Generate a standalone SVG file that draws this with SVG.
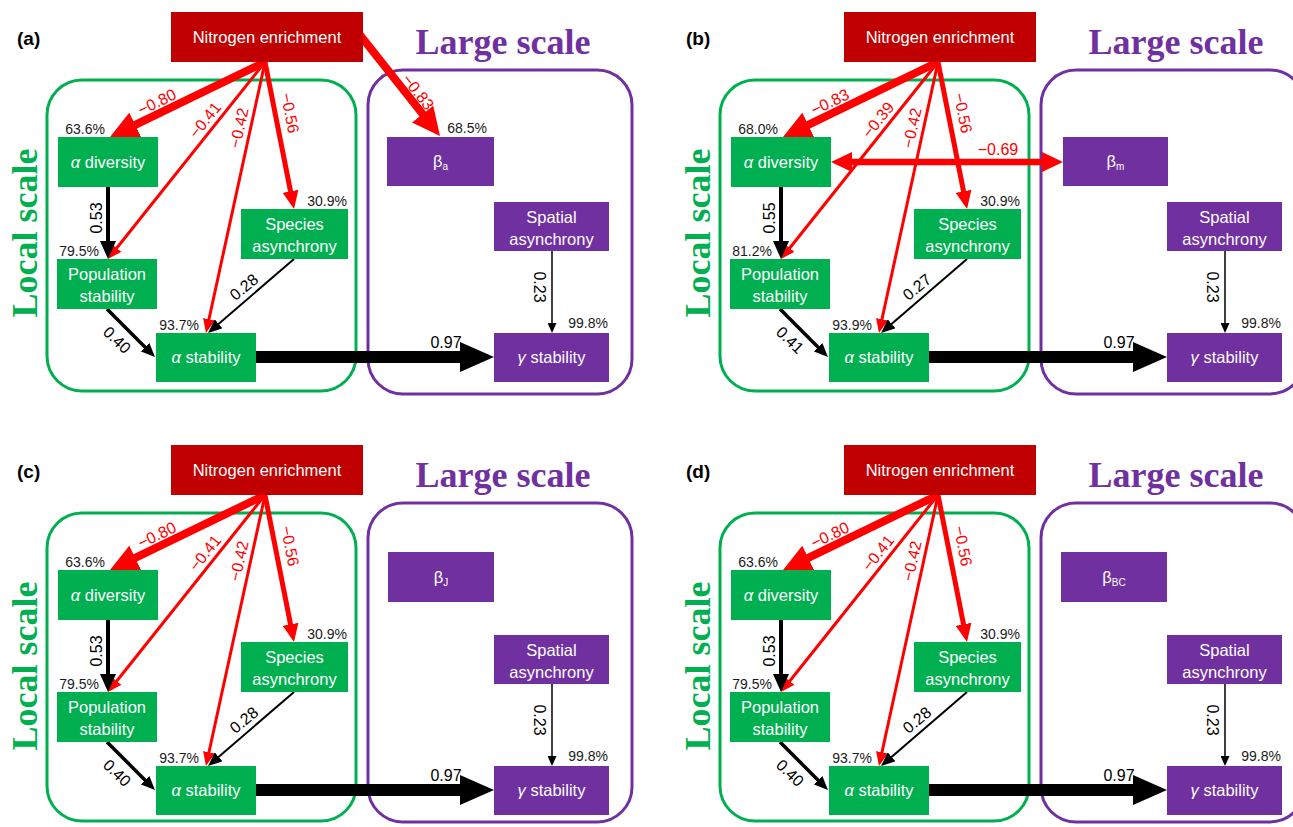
<svg xmlns="http://www.w3.org/2000/svg" width="1293" height="827" viewBox="0 0 1293 827">
<style>
.ttl{font-family:"Liberation Serif","Times New Roman",serif;font-weight:bold;font-size:36px;text-anchor:middle}
.lg{fill:#7030A0}.lc{fill:#00B050}
.plab{font-family:"Liberation Sans",Arial,sans-serif;font-weight:bold;font-size:19px;fill:#000}
.nt{font-family:"Liberation Sans",Arial,sans-serif;font-size:16.5px;fill:#fff;text-anchor:middle}
.sub{font-size:10px}
.pct{font-family:"Liberation Sans",Arial,sans-serif;font-size:14px;fill:#1a1a1a;text-anchor:end}
.cf{font-family:"Liberation Sans",Arial,sans-serif;font-size:16px;text-anchor:middle}
.r{fill:#FF0000}.k{fill:#000}
.lr{stroke:#FF0000;fill:none}.lk{stroke:#000;fill:none}
.gn{fill:#00B050}.pu{fill:#7030A0}.nr{fill:#C00000}
.gbox{fill:none;stroke:#00B050;stroke-width:3}
.pbox{fill:none;stroke:#7030A0;stroke-width:3}
</style>
<defs>
<marker id="hs-r" markerUnits="userSpaceOnUse" markerWidth="14" markerHeight="12" viewBox="0 0 14 12" refX="4" refY="6" orient="auto"><path d="M0,0 L14,6 L0,12 z" fill="#FF0000"/></marker>
<marker id="hs-k" markerUnits="userSpaceOnUse" markerWidth="14" markerHeight="12" viewBox="0 0 14 12" refX="4" refY="6" orient="auto"><path d="M0,0 L14,6 L0,12 z" fill="#000"/></marker>
<marker id="hxs-k" markerUnits="userSpaceOnUse" markerWidth="10" markerHeight="9" viewBox="0 0 10 9" refX="3" refY="4.5" orient="auto"><path d="M0,0 L10,4.5 L0,9 z" fill="#000"/></marker>
<marker id="hm-r" markerUnits="userSpaceOnUse" markerWidth="18" markerHeight="16" viewBox="0 0 18 16" refX="6" refY="8" orient="auto"><path d="M0,0 L18,8 L0,16 z" fill="#FF0000"/></marker>
<marker id="hm-k" markerUnits="userSpaceOnUse" markerWidth="18" markerHeight="16" viewBox="0 0 18 16" refX="6" refY="8" orient="auto"><path d="M0,0 L18,8 L0,16 z" fill="#000"/></marker>
<marker id="hl-r" markerUnits="userSpaceOnUse" markerWidth="28" markerHeight="27" viewBox="0 0 28 27" refX="8" refY="13.5" orient="auto"><path d="M0,0 L28,13.5 L0,27 z" fill="#FF0000"/></marker>
<marker id="hx-k" markerUnits="userSpaceOnUse" markerWidth="34" markerHeight="30" viewBox="0 0 34 30" refX="10" refY="15" orient="auto"><path d="M0,0 L34,15 L0,30 z" fill="#000"/></marker>
<marker id="hd-r" markerUnits="userSpaceOnUse" markerWidth="21" markerHeight="20" viewBox="0 0 21 20" refX="6" refY="10" orient="auto-start-reverse"><path d="M0,0 L21,10 L0,20 z" fill="#FF0000"/></marker>
</defs>

<!-- ============ PANEL A ============ -->
<g id="panel-a">
<text class="plab" x="17" y="45">(a)</text>
<text class="ttl lg" x="503" y="54">Large scale</text>
<text class="ttl lc" transform="translate(37,233) rotate(-90)">Local scale</text>
<rect id="a-local-frame" class="gbox" x="47" y="80" width="309" height="311" rx="35"/>
<rect id="a-large-frame" class="pbox" x="368" y="70" width="264" height="324" rx="35"/>
<g id="a-connectors">
<path class="lr" stroke-width="8" d="M265,62 L128,128.3" marker-end="url(#hl-r)"/>
<path class="lr" stroke-width="3" d="M265,62 L114.2,251.2" marker-end="url(#hs-r)"/>
<path class="lr" stroke-width="3" d="M265,62 L208.1,323.2" marker-end="url(#hs-r)"/>
<path class="lr" stroke-width="5" d="M265,62 L291.7,197.2" marker-end="url(#hm-r)"/>
<path class="lr" stroke-width="8" d="M360,35 L427.6,120.3" marker-end="url(#hl-r)"/>
<path class="lk" stroke-width="4" d="M108,187 L108,247" marker-end="url(#hm-k)"/>
<path class="lk" stroke-width="2" d="M294,259 L215.6,326.5" marker-end="url(#hs-k)"/>
<path class="lk" stroke-width="3.5" d="M107,309 L147.9,349.9" marker-end="url(#hs-k)"/>
<path class="lk" stroke-width="12" d="M256,357 L470,357" marker-end="url(#hx-k)"/>
<path class="lk" stroke-width="1.5" d="M552,251 L552,326" marker-end="url(#hxs-k)"/>
<text class="cf r" transform="translate(157,102) rotate(-25.8)" y="5.5">−0.80</text>
<text class="cf r" transform="translate(205,120) rotate(-51.4)" y="5.5">−0.41</text>
<text class="cf r" transform="translate(239,128) rotate(-77.7)" y="5.5">−0.42</text>
<text class="cf r" transform="translate(290,113) rotate(78.8)" y="5.5">−0.56</text>
<text class="cf r" transform="translate(418,92) rotate(52)" y="5.5">−0.83</text>
<text class="cf k" transform="translate(96,218) rotate(-90)" y="5.5">0.53</text>
<text class="cf k" transform="translate(244,287) rotate(-40)" y="5.5">0.28</text>
<text class="cf k" transform="translate(117,340) rotate(44)" y="5.5">0.40</text>
<text class="cf k" x="446" y="348">0.97</text>
<text class="cf k" transform="translate(539,287) rotate(90)" y="5.5">0.23</text>
</g>
<g id="a-nitrogen"><rect class="nr" x="171" y="12" width="192" height="50"/><text class="nt" x="267" y="43">Nitrogen enrichment</text></g>
<g id="a-alpha-diversity"><rect class="gn" x="58" y="137" width="100" height="50"/><text class="nt" x="108" y="168"><tspan font-style="italic">α</tspan> diversity</text><text class="pct" x="105" y="134">63.6%</text></g>
<g id="a-population-stability"><rect class="gn" x="57" y="259" width="100" height="50"/><text class="nt" x="107" y="280">Population</text><text class="nt" x="107" y="302">stability</text><text class="pct" x="99" y="256">79.5%</text></g>
<g id="a-species-asynchrony"><rect class="gn" x="241" y="209" width="107" height="50"/><text class="nt" x="294.5" y="230">Species</text><text class="nt" x="294.5" y="252">asynchrony</text><text class="pct" x="347" y="206">30.9%</text></g>
<g id="a-alpha-stability"><rect class="gn" x="156" y="333" width="100" height="49"/><text class="nt" x="206" y="363"><tspan font-style="italic">α</tspan> stability</text><text class="pct" x="199" y="330">93.7%</text></g>
<g id="a-beta"><rect class="pu" x="387" y="137" width="107" height="49"/><text class="nt" x="440.5" y="167">β<tspan class="sub" dy="3">a</tspan></text><text class="pct" x="487" y="133">68.5%</text></g>
<g id="a-spatial-asynchrony"><rect class="pu" x="494" y="202" width="115" height="49"/><text class="nt" x="551.5" y="223">Spatial</text><text class="nt" x="551.5" y="245">asynchrony</text></g>
<g id="a-gamma-stability"><rect class="pu" x="494" y="333" width="115" height="49"/><text class="nt" x="551.5" y="363"><tspan font-style="italic">γ</tspan> stability</text><text class="pct" x="608" y="328">99.8%</text></g>
</g>

<!-- ============ PANEL B ============ -->
<g id="panel-b" transform="translate(673,0)">
<text class="plab" x="13" y="45">(b)</text>
<text class="ttl lg" x="503" y="54">Large scale</text>
<text class="ttl lc" transform="translate(37,233) rotate(-90)">Local scale</text>
<rect id="b-local-frame" class="gbox" x="47" y="80" width="309" height="311" rx="35"/>
<rect id="b-large-frame" class="pbox" x="368" y="70" width="264" height="324" rx="35"/>
<g id="b-connectors">
<path class="lr" stroke-width="8" d="M265,62 L128,128.3" marker-end="url(#hl-r)"/>
<path class="lr" stroke-width="3" d="M265,62 L114.2,251.2" marker-end="url(#hs-r)"/>
<path class="lr" stroke-width="3" d="M265,62 L208.1,323.2" marker-end="url(#hs-r)"/>
<path class="lr" stroke-width="5" d="M265,62 L291.7,197.2" marker-end="url(#hm-r)"/>
<path class="lr" stroke-width="6.5" d="M173,162 L375,162" marker-start="url(#hd-r)" marker-end="url(#hd-r)"/>
<path class="lk" stroke-width="4" d="M108,187 L108,247" marker-end="url(#hm-k)"/>
<path class="lk" stroke-width="2" d="M294,259 L215.6,326.5" marker-end="url(#hs-k)"/>
<path class="lk" stroke-width="3.5" d="M107,309 L147.9,349.9" marker-end="url(#hs-k)"/>
<path class="lk" stroke-width="12" d="M256,357 L470,357" marker-end="url(#hx-k)"/>
<path class="lk" stroke-width="1.5" d="M552,251 L552,326" marker-end="url(#hxs-k)"/>
<text class="cf r" transform="translate(157,102) rotate(-25.8)" y="5.5">−0.83</text>
<text class="cf r" transform="translate(205,120) rotate(-51.4)" y="5.5">−0.39</text>
<text class="cf r" transform="translate(239,128) rotate(-77.7)" y="5.5">−0.42</text>
<text class="cf r" transform="translate(290,113) rotate(78.8)" y="5.5">−0.56</text>
<text class="cf r" x="325" y="155">−0.69</text>
<text class="cf k" transform="translate(96,218) rotate(-90)" y="5.5">0.55</text>
<text class="cf k" transform="translate(244,287) rotate(-40)" y="5.5">0.27</text>
<text class="cf k" transform="translate(117,340) rotate(44)" y="5.5">0.41</text>
<text class="cf k" x="446" y="348">0.97</text>
<text class="cf k" transform="translate(539,287) rotate(90)" y="5.5">0.23</text>
</g>
<g id="b-nitrogen"><rect class="nr" x="171" y="12" width="192" height="50"/><text class="nt" x="267" y="43">Nitrogen enrichment</text></g>
<g id="b-alpha-diversity"><rect class="gn" x="58" y="137" width="100" height="50"/><text class="nt" x="108" y="168"><tspan font-style="italic">α</tspan> diversity</text><text class="pct" x="105" y="134">68.0%</text></g>
<g id="b-population-stability"><rect class="gn" x="57" y="259" width="100" height="50"/><text class="nt" x="107" y="280">Population</text><text class="nt" x="107" y="302">stability</text><text class="pct" x="99" y="256">81.2%</text></g>
<g id="b-species-asynchrony"><rect class="gn" x="241" y="209" width="107" height="50"/><text class="nt" x="294.5" y="230">Species</text><text class="nt" x="294.5" y="252">asynchrony</text><text class="pct" x="347" y="206">30.9%</text></g>
<g id="b-alpha-stability"><rect class="gn" x="156" y="333" width="100" height="49"/><text class="nt" x="206" y="363"><tspan font-style="italic">α</tspan> stability</text><text class="pct" x="199" y="330">93.9%</text></g>
<g id="b-beta"><rect class="pu" x="390" y="137" width="105" height="49"/><text class="nt" x="442.5" y="167">β<tspan class="sub" dy="3">m</tspan></text></g>
<g id="b-spatial-asynchrony"><rect class="pu" x="494" y="202" width="115" height="49"/><text class="nt" x="551.5" y="223">Spatial</text><text class="nt" x="551.5" y="245">asynchrony</text></g>
<g id="b-gamma-stability"><rect class="pu" x="494" y="333" width="115" height="49"/><text class="nt" x="551.5" y="363"><tspan font-style="italic">γ</tspan> stability</text><text class="pct" x="608" y="328">99.8%</text></g>
</g>

<!-- ============ PANEL C ============ -->
<g id="panel-c" transform="translate(0,433)">
<text class="plab" x="17" y="45">(c)</text>
<text class="ttl lg" x="503" y="54">Large scale</text>
<text class="ttl lc" transform="translate(37,233) rotate(-90)">Local scale</text>
<rect id="c-local-frame" class="gbox" x="47" y="80" width="309" height="308" rx="35"/>
<rect id="c-large-frame" class="pbox" x="368" y="70" width="264" height="319" rx="35"/>
<g id="c-connectors">
<path class="lr" stroke-width="8" d="M265,62 L128,128.3" marker-end="url(#hl-r)"/>
<path class="lr" stroke-width="3" d="M265,62 L114.2,251.2" marker-end="url(#hs-r)"/>
<path class="lr" stroke-width="3" d="M265,62 L208.1,323.2" marker-end="url(#hs-r)"/>
<path class="lr" stroke-width="5" d="M265,62 L291.7,197.2" marker-end="url(#hm-r)"/>
<path class="lk" stroke-width="4" d="M108,187 L108,247" marker-end="url(#hm-k)"/>
<path class="lk" stroke-width="2" d="M294,259 L215.6,326.5" marker-end="url(#hs-k)"/>
<path class="lk" stroke-width="3.5" d="M107,309 L147.9,349.9" marker-end="url(#hs-k)"/>
<path class="lk" stroke-width="12" d="M256,357 L470,357" marker-end="url(#hx-k)"/>
<path class="lk" stroke-width="1.5" d="M552,251 L552,326" marker-end="url(#hxs-k)"/>
<text class="cf r" transform="translate(157,102) rotate(-25.8)" y="5.5">−0.80</text>
<text class="cf r" transform="translate(205,120) rotate(-51.4)" y="5.5">−0.41</text>
<text class="cf r" transform="translate(239,128) rotate(-77.7)" y="5.5">−0.42</text>
<text class="cf r" transform="translate(290,113) rotate(78.8)" y="5.5">−0.56</text>
<text class="cf k" transform="translate(96,218) rotate(-90)" y="5.5">0.53</text>
<text class="cf k" transform="translate(244,287) rotate(-40)" y="5.5">0.28</text>
<text class="cf k" transform="translate(117,340) rotate(44)" y="5.5">0.40</text>
<text class="cf k" x="446" y="348">0.97</text>
<text class="cf k" transform="translate(539,287) rotate(90)" y="5.5">0.23</text>
</g>
<g id="c-nitrogen"><rect class="nr" x="171" y="12" width="192" height="50"/><text class="nt" x="267" y="43">Nitrogen enrichment</text></g>
<g id="c-alpha-diversity"><rect class="gn" x="58" y="137" width="100" height="50"/><text class="nt" x="108" y="168"><tspan font-style="italic">α</tspan> diversity</text><text class="pct" x="105" y="134">63.6%</text></g>
<g id="c-population-stability"><rect class="gn" x="57" y="259" width="100" height="50"/><text class="nt" x="107" y="280">Population</text><text class="nt" x="107" y="302">stability</text><text class="pct" x="99" y="256">79.5%</text></g>
<g id="c-species-asynchrony"><rect class="gn" x="241" y="209" width="107" height="50"/><text class="nt" x="294.5" y="230">Species</text><text class="nt" x="294.5" y="252">asynchrony</text><text class="pct" x="347" y="206">30.9%</text></g>
<g id="c-alpha-stability"><rect class="gn" x="156" y="333" width="100" height="49"/><text class="nt" x="206" y="363"><tspan font-style="italic">α</tspan> stability</text><text class="pct" x="199" y="330">93.7%</text></g>
<g id="c-beta"><rect class="pu" x="388" y="119" width="106" height="50"/><text class="nt" x="441" y="150">β<tspan class="sub" dy="3">J</tspan></text></g>
<g id="c-spatial-asynchrony"><rect class="pu" x="494" y="202" width="115" height="49"/><text class="nt" x="551.5" y="223">Spatial</text><text class="nt" x="551.5" y="245">asynchrony</text></g>
<g id="c-gamma-stability"><rect class="pu" x="494" y="333" width="115" height="49"/><text class="nt" x="551.5" y="363"><tspan font-style="italic">γ</tspan> stability</text><text class="pct" x="608" y="328">99.8%</text></g>
</g>

<!-- ============ PANEL D ============ -->
<g id="panel-d" transform="translate(673,433)">
<text class="plab" x="13" y="45">(d)</text>
<text class="ttl lg" x="503" y="54">Large scale</text>
<text class="ttl lc" transform="translate(37,233) rotate(-90)">Local scale</text>
<rect id="d-local-frame" class="gbox" x="47" y="80" width="309" height="308" rx="35"/>
<rect id="d-large-frame" class="pbox" x="368" y="70" width="264" height="319" rx="35"/>
<g id="d-connectors">
<path class="lr" stroke-width="8" d="M265,62 L128,128.3" marker-end="url(#hl-r)"/>
<path class="lr" stroke-width="3" d="M265,62 L114.2,251.2" marker-end="url(#hs-r)"/>
<path class="lr" stroke-width="3" d="M265,62 L208.1,323.2" marker-end="url(#hs-r)"/>
<path class="lr" stroke-width="5" d="M265,62 L291.7,197.2" marker-end="url(#hm-r)"/>
<path class="lk" stroke-width="4" d="M108,187 L108,247" marker-end="url(#hm-k)"/>
<path class="lk" stroke-width="2" d="M294,259 L215.6,326.5" marker-end="url(#hs-k)"/>
<path class="lk" stroke-width="3.5" d="M107,309 L147.9,349.9" marker-end="url(#hs-k)"/>
<path class="lk" stroke-width="12" d="M256,357 L470,357" marker-end="url(#hx-k)"/>
<path class="lk" stroke-width="1.5" d="M552,251 L552,326" marker-end="url(#hxs-k)"/>
<text class="cf r" transform="translate(157,102) rotate(-25.8)" y="5.5">−0.80</text>
<text class="cf r" transform="translate(205,120) rotate(-51.4)" y="5.5">−0.41</text>
<text class="cf r" transform="translate(239,128) rotate(-77.7)" y="5.5">−0.42</text>
<text class="cf r" transform="translate(290,113) rotate(78.8)" y="5.5">−0.56</text>
<text class="cf k" transform="translate(96,218) rotate(-90)" y="5.5">0.53</text>
<text class="cf k" transform="translate(244,287) rotate(-40)" y="5.5">0.28</text>
<text class="cf k" transform="translate(117,340) rotate(44)" y="5.5">0.40</text>
<text class="cf k" x="446" y="348">0.97</text>
<text class="cf k" transform="translate(539,287) rotate(90)" y="5.5">0.23</text>
</g>
<g id="d-nitrogen"><rect class="nr" x="171" y="12" width="192" height="50"/><text class="nt" x="267" y="43">Nitrogen enrichment</text></g>
<g id="d-alpha-diversity"><rect class="gn" x="58" y="137" width="100" height="50"/><text class="nt" x="108" y="168"><tspan font-style="italic">α</tspan> diversity</text><text class="pct" x="105" y="134">63.6%</text></g>
<g id="d-population-stability"><rect class="gn" x="57" y="259" width="100" height="50"/><text class="nt" x="107" y="280">Population</text><text class="nt" x="107" y="302">stability</text><text class="pct" x="99" y="256">79.5%</text></g>
<g id="d-species-asynchrony"><rect class="gn" x="241" y="209" width="107" height="50"/><text class="nt" x="294.5" y="230">Species</text><text class="nt" x="294.5" y="252">asynchrony</text><text class="pct" x="347" y="206">30.9%</text></g>
<g id="d-alpha-stability"><rect class="gn" x="156" y="333" width="100" height="49"/><text class="nt" x="206" y="363"><tspan font-style="italic">α</tspan> stability</text><text class="pct" x="199" y="330">93.7%</text></g>
<g id="d-beta"><rect class="pu" x="388" y="119" width="106" height="50"/><text class="nt" x="441" y="150">β<tspan class="sub" dy="3">BC</tspan></text></g>
<g id="d-spatial-asynchrony"><rect class="pu" x="494" y="202" width="115" height="49"/><text class="nt" x="551.5" y="223">Spatial</text><text class="nt" x="551.5" y="245">asynchrony</text></g>
<g id="d-gamma-stability"><rect class="pu" x="494" y="333" width="115" height="49"/><text class="nt" x="551.5" y="363"><tspan font-style="italic">γ</tspan> stability</text><text class="pct" x="608" y="328">99.8%</text></g>
</g>
</svg>
